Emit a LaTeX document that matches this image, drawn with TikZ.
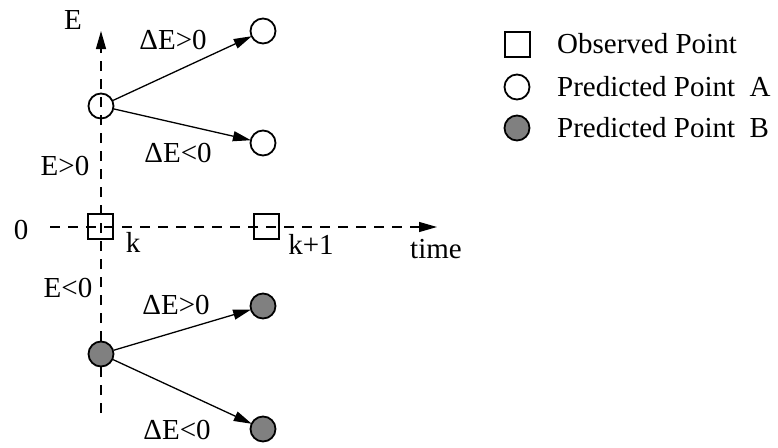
\documentclass[tikz,border=0pt]{standalone}
\usepackage{fontspec}
\setmainfont{Liberation Serif}
\usetikzlibrary{arrows.meta}
\tikzset{
  obs/.style={draw, line width=2pt, minimum size=25pt, inner sep=0pt},
  preda/.style={circle, draw, line width=1.8pt, minimum size=25pt, inner sep=0pt},
  predb/.style={circle, draw, fill=gray, line width=1.8pt, minimum size=25pt, inner sep=0pt},
  axis/.style={line width=1.2pt, dash pattern=on 10pt off 8pt, -{Triangle[length=18pt,width=10pt]}},
  conn/.style={line width=1.3pt, -{Triangle[length=18pt,width=10pt]}, shorten >=-1pt},
  lab/.style={inner sep=0pt, font=\fontsize{29}{34}\selectfont},
}
\begin{document}
\begin{tikzpicture}[x=1pt,y=-1pt]
\useasboundingbox (0,0) rectangle (778,447);
% axes
\coordinate (vbot) at (101,413);
\coordinate (vtop) at (101,31);
\coordinate (hleft) at (50,227);
\coordinate (hright) at (437,227);
\draw[axis] (vbot) -- (vtop);
\draw[axis] (hleft) -- (hright);
% observed points
\node[obs] (sk) at (100,226) {};
\node[obs] (sk1) at (266,226) {};
% predicted A
\node[preda] (a0) at (101,106) {};
\node[preda] (ap) at (263,31) {};
\node[preda] (am) at (263,143) {};
% predicted B
\node[predb] (b0) at (101,354) {};
\node[predb] (bp) at (263,306) {};
\node[predb] (bm) at (263,429) {};
% connectors
\draw[conn] (a0) -- (ap);
\draw[conn] (a0) -- (am);
\draw[conn] (b0) -- (bp);
\draw[conn] (b0) -- (bm);
% labels
\node[lab] (lE) at (73,20) {E};
\node[lab] (lap) at (173,40) {ΔE>0};
\node[lab] (lam) at (178,153) {ΔE<0};
\node[lab] (lEp) at (65,166) {E>0};
\node[lab] (lzero) at (21,230) {0};
\node[lab] (lk) at (133,242) {k};
\node[lab] (lk1) at (311,244) {k+1};
\node[lab] (ltime) at (436,249) {time};
\node[lab] (lEm) at (68,288) {E<0};
\node[lab] (lbp) at (176,305) {ΔE>0};
\node[lab] (lbm) at (177,430) {ΔE<0};
% legend
\node[obs] (gobs) at (517,44) {};
\node[preda] (ga) at (517,87) {};
\node[predb] (gb) at (517,128) {};
\node[lab, anchor=west] (tobs) at (557,44) {Observed Point};
\node[lab, anchor=west] (ta) at (557,87) {Predicted Point\ \ A};
\node[lab, anchor=west] (tb) at (557,128) {Predicted Point\ \ B};
\end{tikzpicture}
\end{document}
